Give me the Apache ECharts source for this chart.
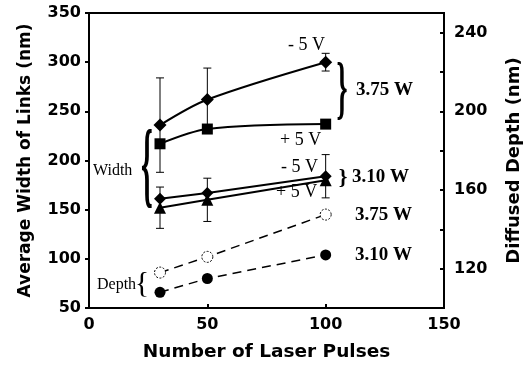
<!DOCTYPE html>
<html>
<head>
<meta charset="utf-8">
<script src="https://cdn.jsdelivr.net/npm/echarts@6/dist/echarts.min.js"></script>
<style>
  html, body { margin: 0; padding: 0; background: #fff; }
  #chart { width: 531px; height: 367px; }
</style>
</head>
<body>
<div id="chart"></div>
<script>
// number of laser pulses
const pulses = [30, 50, 100]

// average width of links (nm), left axis
const w375neg = [236, 262, 300]
const w375pos = [217, 232, 237]
const w310neg = [161, 167, 184]
const w310pos = [152, 160, 180]

// error bar half-lengths (null = no bar drawn)
const w375negErr = [48, 32, 9]
const w310negErr = [null, null, 22]
const w310posErr = [21, 22, null]

// diffused depth (nm), right axis
const d375 = [118, 126, 147.5]
const d310 = [108, 115, 127]

const rightTicks = [120, 160, 200, 240]

const pairs = (ys) => pulses.map((x, i) => [x, ys[i]])
const errPairs = (ys, errs) =>
  pulses
    .map((x, i) => (errs[i] == null ? null : [x, ys[i] - errs[i], ys[i] + errs[i]]))
    .filter(Boolean)

const sansBold = { fontFamily: 'DejaVu Sans', fontWeight: 'bold', color: '#000' }
const serif = 'Liberation Serif'

const chart = echarts.init(document.getElementById('chart'))

const lineBase = (name, data, symbol, size, extra) => Object.assign({
  name,
  type: 'line',
  data,
  symbol,
  symbolSize: size,
  lineStyle: { color: '#000', width: 2 },
  itemStyle: { color: '#000' },
  z: 3
}, extra)

const errorSeries = (data) => ({
  type: 'custom',
  yAxisIndex: 0,
  data,
  z: 2,
  renderItem: (params, api) => {
    const x = api.value(0)
    const lo = api.coord([x, api.value(1)])
    const hi = api.coord([x, api.value(2)])
    const cap = 4
    const st = { stroke: '#000', lineWidth: 1 }
    return {
      type: 'group',
      children: [
        { type: 'line', shape: { x1: lo[0], y1: lo[1], x2: hi[0], y2: hi[1] }, style: st },
        { type: 'line', shape: { x1: hi[0] - cap, y1: hi[1], x2: hi[0] + cap, y2: hi[1] }, style: st },
        { type: 'line', shape: { x1: lo[0] - cap, y1: lo[1], x2: lo[0] + cap, y2: lo[1] }, style: st }
      ]
    }
  }
})

const txt = (x, y, text, opts) => ({
  type: 'text',
  x,
  y,
  z: 10,
  scaleX: (opts && opts.sx) || 1,
  scaleY: (opts && opts.sy) || 1,
  style: {
    x: 0,
    y: 0,
    text,
    fill: '#000',
    fontFamily: serif,
    fontSize: (opts && opts.size) || 18,
    fontWeight: (opts && opts.bold) ? 'bold' : 'normal',
    textAlign: (opts && opts.align) || 'left',
    textVerticalAlign: 'middle'
  }
})

chart.setOption({
  animation: false,
  backgroundColor: '#fff',
  grid: {
    left: 89,
    right: 86,
    top: 13,
    bottom: 57,
    show: true,
    borderColor: '#000',
    borderWidth: 2
  },
  xAxis: {
    type: 'value',
    min: 0,
    max: 150,
    interval: 50,
    name: 'Number of Laser Pulses',
    nameLocation: 'middle',
    nameGap: 35,
    nameTextStyle: Object.assign({ fontSize: 18.5 }, sansBold),
    axisLine: { lineStyle: { color: '#000', width: 2 } },
    axisTick: { inside: true, length: 4, lineStyle: { color: '#000', width: 2 } },
    axisLabel: Object.assign({ fontSize: 16, margin: 9 }, sansBold),
    splitLine: { show: false }
  },
  yAxis: [
    {
      type: 'value',
      min: 50,
      max: 350,
      interval: 50,
      name: 'Average Width of Links (nm)',
      nameLocation: 'middle',
      nameRotate: 90,
      nameGap: 55,
      nameTextStyle: Object.assign({ fontSize: 17 }, sansBold),
      axisLine: { lineStyle: { color: '#000', width: 2 } },
      axisTick: { inside: false, length: 4, lineStyle: { color: '#000', width: 2 } },
      axisLabel: Object.assign({ fontSize: 16, margin: 8 }, sansBold),
      splitLine: { show: false }
    },
    {
      type: 'value',
      position: 'right',
      min: 100,
      max: 250,
      interval: 20,
      name: 'Diffused Depth (nm)',
      nameLocation: 'middle',
      nameRotate: 90,
      nameGap: 61,
      nameTextStyle: Object.assign({ fontSize: 18 }, sansBold),
      axisLine: { show: true, lineStyle: { color: '#000', width: 2 } },
      axisTick: { inside: true, length: 4, lineStyle: { color: '#000', width: 2 } },
      axisLabel: Object.assign({
        fontSize: 16,
        margin: 10,
        formatter: (v) => (rightTicks.indexOf(v) >= 0 ? String(v) : '')
      }, sansBold),
      splitLine: { show: false }
    }
  ],
  series: [
    errorSeries(errPairs(w375neg, w375negErr)),
    errorSeries(errPairs(w310neg, w310negErr)),
    errorSeries(errPairs(w310pos, w310posErr)),
    lineBase('3.75 W -5 V', pairs(w375neg), 'diamond', 13, { smooth: 0.3 }),
    lineBase('3.75 W +5 V', pairs(w375pos), 'rect', 11, { smooth: 0.3 }),
    lineBase('3.10 W -5 V', pairs(w310neg), 'diamond', 12),
    lineBase('3.10 W +5 V', pairs(w310pos), 'triangle', 12),
    lineBase('depth 3.75 W', pairs(d375), 'circle', 11, {
      yAxisIndex: 1,
      lineStyle: { color: '#000', width: 1.5, type: [9, 6] },
      itemStyle: { color: '#fff', borderColor: '#000', borderWidth: 1, borderType: [2, 1.5] }
    }),
    lineBase('depth 3.10 W', pairs(d310), 'circle', 11, {
      yAxisIndex: 1,
      lineStyle: { color: '#000', width: 1.5, type: [9, 6] }
    })
  ],
  graphic: [
    txt(288, 45, '- 5 V'),
    txt(280, 140, '+ 5 V'),
    txt(281, 167, '- 5 V'),
    txt(276, 192, '+ 5 V'),
    txt(342, 93, '}', { size: 40, sx: 0.7, sy: 1.75, bold: true, align: 'center' }),
    txt(356, 90, '3.75 W', { size: 19, bold: true }),
    txt(343, 178, '}', { size: 22, bold: true, align: 'center' }),
    txt(352, 177, '3.10 W', { size: 19, bold: true }),
    txt(355, 215, '3.75 W', { size: 19, bold: true }),
    txt(355, 255, '3.10 W', { size: 19, bold: true }),
    txt(93, 171, 'Width', { size: 16 }),
    txt(147, 170, '{', { size: 40, sx: 0.75, sy: 2.4, bold: true, align: 'center' }),
    txt(97, 285, 'Depth', { size: 16 }),
    txt(142, 284, '{', { size: 30, align: 'center' })
  ]
})
</script>
</body>
</html>
